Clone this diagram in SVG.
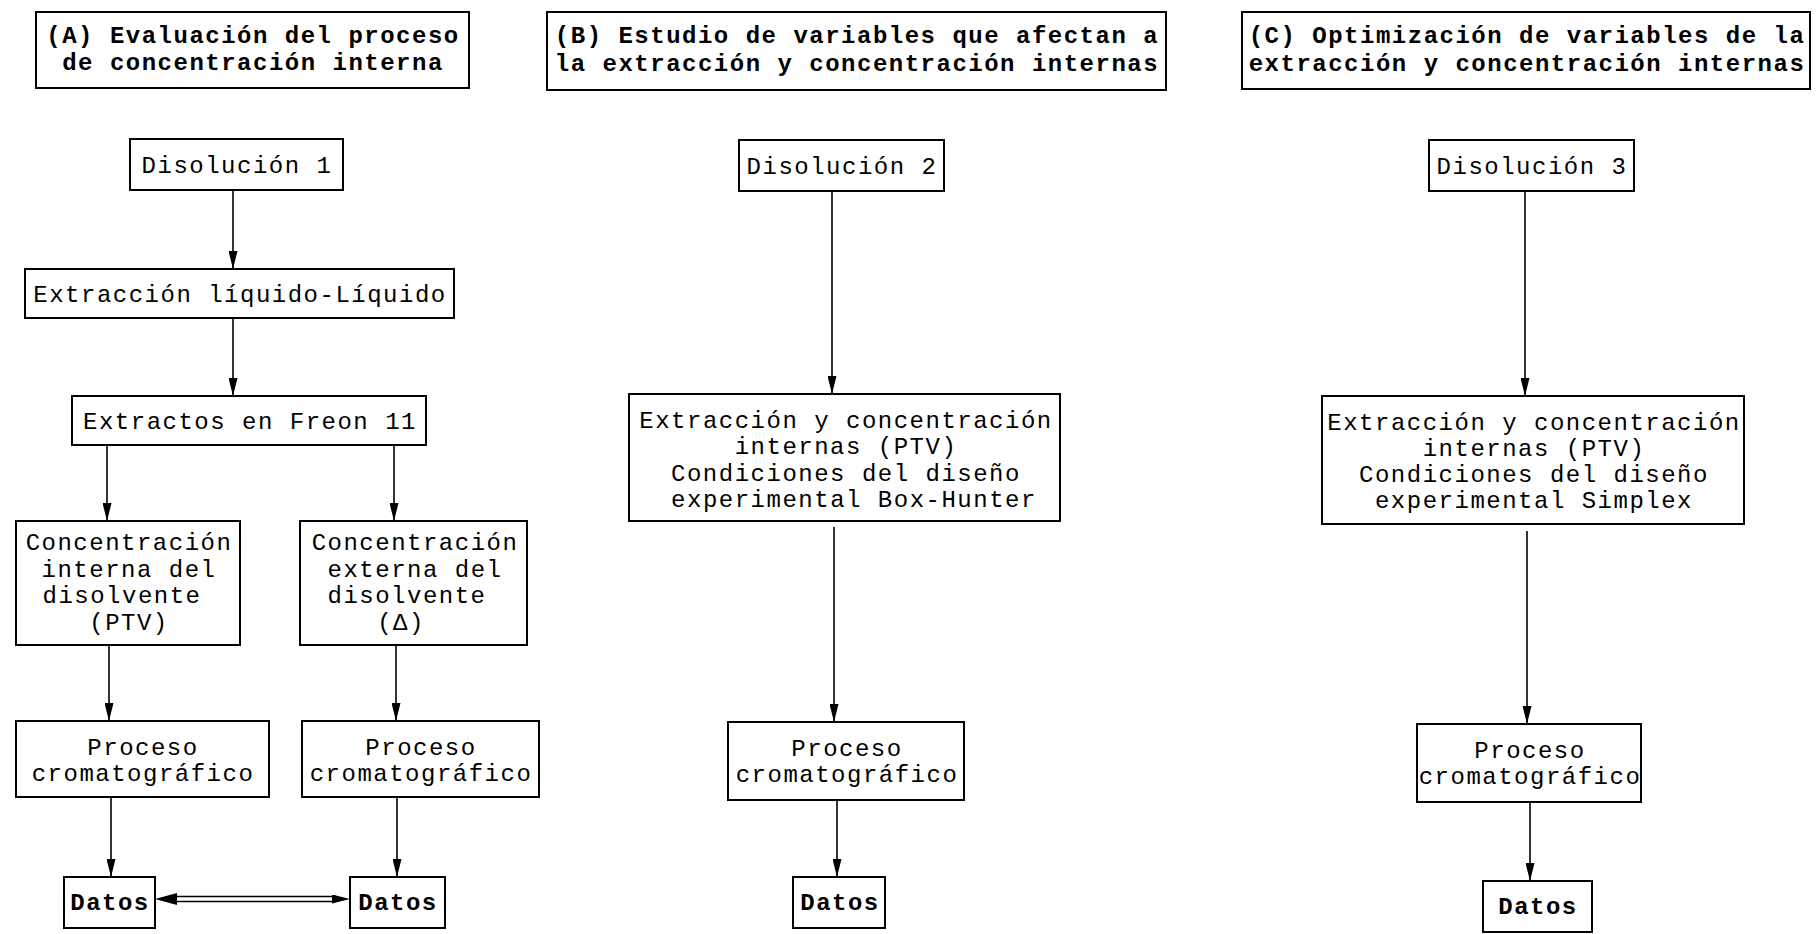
<svg xmlns="http://www.w3.org/2000/svg" width="1817" height="934" viewBox="0 0 1817 934">
<defs>
<style>
.box{fill:#fff;stroke:#000;stroke-width:2}
.t{font-family:"Liberation Mono","Courier New",monospace;font-size:24px;letter-spacing:1.5px;fill:#000;text-anchor:middle}
.b{font-weight:bold}
.c{fill:none;stroke:#000;stroke-width:1.6}
</style>
<marker id="arr" markerUnits="userSpaceOnUse" markerWidth="18" markerHeight="9" viewBox="0 0 18 9" refX="18" refY="4.5" orient="auto-start-reverse">
<path d="M0,0 L18,4.5 L0,9 z" fill="#000"/>
</marker>
<marker id="arr2" markerUnits="userSpaceOnUse" markerWidth="22" markerHeight="12" viewBox="0 0 22 12" refX="22" refY="6" orient="auto-start-reverse">
<path d="M0,0 L22,6 L0,12 z" fill="#000"/>
</marker>
</defs>
<rect width="1817" height="934" fill="#fff"/>

<g id="headerA">
<rect class="box" x="36" y="12" width="433" height="76"/>
<text class="t b" x="253" y="43">(A) Evaluación del proceso</text>
<text class="t b" x="253" y="70">de concentración interna</text>
</g>
<g id="headerB">
<rect class="box" x="547" y="12" width="619" height="78"/>
<text class="t b" x="857" y="43">(B) Estudio de variables que afectan a</text>
<text class="t b" x="857" y="71">la extracción y concentración internas</text>
</g>
<g id="headerC">
<rect class="box" x="1242" y="12" width="568" height="77"/>
<text class="t b" x="1527" y="43">(C) Optimización de variables de la</text>
<text class="t b" x="1527" y="71">extracción y concentración internas</text>
</g>

<g id="disolucion1">
<rect class="box" x="130" y="139" width="213" height="51"/>
<text class="t" x="237" y="173">Disolución 1</text>
</g>
<g id="extraccionLL">
<rect class="box" x="25" y="269" width="429" height="49"/>
<text class="t" x="240" y="302">Extracción líquido-Líquido</text>
</g>
<g id="extractosFreon">
<rect class="box" x="72" y="396" width="354" height="49"/>
<text class="t" x="250" y="429">Extractos en Freon 11</text>
</g>
<g id="concInterna">
<rect class="box" x="16" y="521" width="224" height="124"/>
<text class="t" x="129" y="550">Concentración</text>
<text class="t" x="129" y="577">interna del</text>
<text class="t" x="122" y="603">disolvente</text>
<text class="t" x="129" y="630">(PTV)</text>
</g>
<g id="concExterna">
<rect class="box" x="300" y="521" width="227" height="124"/>
<text class="t" x="415" y="550">Concentración</text>
<text class="t" x="415" y="577">externa del</text>
<text class="t" x="407" y="603">disolvente</text>
<text class="t" x="401" y="630">(Δ)</text>
</g>
<g id="procesoA1">
<rect class="box" x="16" y="721" width="253" height="76"/>
<text class="t" x="143" y="755">Proceso</text>
<text class="t" x="143" y="781">cromatográfico</text>
</g>
<g id="procesoA2">
<rect class="box" x="302" y="721" width="237" height="76"/>
<text class="t" x="421" y="755">Proceso</text>
<text class="t" x="421" y="781">cromatográfico</text>
</g>
<g id="datosA1">
<rect class="box" x="64" y="877" width="91" height="51"/>
<text class="t b" x="110" y="910">Datos</text>
</g>
<g id="datosA2">
<rect class="box" x="350" y="877" width="95" height="51"/>
<text class="t b" x="398" y="910">Datos</text>
</g>

<g id="disolucion2">
<rect class="box" x="739" y="140" width="205" height="51"/>
<text class="t" x="842" y="174">Disolución 2</text>
</g>
<g id="extraccionB">
<rect class="box" x="629" y="394" width="431" height="127"/>
<text class="t" x="846" y="428">Extracción y concentración</text>
<text class="t" x="846" y="454">internas (PTV)</text>
<text class="t" x="846" y="481">Condiciones del diseño</text>
<text class="t" x="854" y="507">experimental Box-Hunter</text>
</g>
<g id="procesoB">
<rect class="box" x="728" y="722" width="236" height="78"/>
<text class="t" x="847" y="756">Proceso</text>
<text class="t" x="847" y="782">cromatográfico</text>
</g>
<g id="datosB">
<rect class="box" x="793" y="877" width="92" height="51"/>
<text class="t b" x="840" y="910">Datos</text>
</g>

<g id="disolucion3">
<rect class="box" x="1429" y="140" width="205" height="51"/>
<text class="t" x="1532" y="174">Disolución 3</text>
</g>
<g id="extraccionC">
<rect class="box" x="1322" y="396" width="422" height="128"/>
<text class="t" x="1534" y="430">Extracción y concentración</text>
<text class="t" x="1534" y="456">internas (PTV)</text>
<text class="t" x="1534" y="482">Condiciones del diseño</text>
<text class="t" x="1534" y="508">experimental Simplex</text>
</g>
<g id="procesoC">
<rect class="box" x="1417" y="724" width="224" height="78"/>
<text class="t" x="1530" y="758">Proceso</text>
<text class="t" x="1530" y="784">cromatográfico</text>
</g>
<g id="datosC">
<rect class="box" x="1483" y="881" width="109" height="51"/>
<text class="t b" x="1538" y="914">Datos</text>
</g>

<g id="connectors">
<line class="c" x1="233" y1="190" x2="233" y2="269" marker-end="url(#arr)"/>
<line class="c" x1="233" y1="318" x2="233" y2="396" marker-end="url(#arr)"/>
<line class="c" x1="107" y1="445" x2="107" y2="521" marker-end="url(#arr)"/>
<line class="c" x1="394" y1="445" x2="394" y2="521" marker-end="url(#arr)"/>
<line class="c" x1="109" y1="645" x2="109" y2="721" marker-end="url(#arr)"/>
<line class="c" x1="396" y1="645" x2="396" y2="721" marker-end="url(#arr)"/>
<line class="c" x1="111" y1="797" x2="111" y2="877" marker-end="url(#arr)"/>
<line class="c" x1="397" y1="797" x2="397" y2="877" marker-end="url(#arr)"/>
<g id="doubleArrow">
<line x1="155" y1="899" x2="350" y2="899" style="stroke:none" marker-start="url(#arr2)" marker-end="url(#arr)"/>
<line x1="172" y1="896.5" x2="336" y2="896.5" style="stroke:#000;stroke-width:1.6"/>
<line x1="172" y1="901.5" x2="336" y2="901.5" style="stroke:#000;stroke-width:1.6"/>
</g>
<line class="c" x1="832" y1="191" x2="832" y2="394" marker-end="url(#arr)"/>
<line class="c" x1="834" y1="527" x2="834" y2="722" marker-end="url(#arr)"/>
<line class="c" x1="837" y1="800" x2="837" y2="877" marker-end="url(#arr)"/>
<line class="c" x1="1525" y1="191" x2="1525" y2="396" marker-end="url(#arr)"/>
<line class="c" x1="1527" y1="531" x2="1527" y2="724" marker-end="url(#arr)"/>
<line class="c" x1="1530" y1="802" x2="1530" y2="881" marker-end="url(#arr)"/>
</g>
</svg>
